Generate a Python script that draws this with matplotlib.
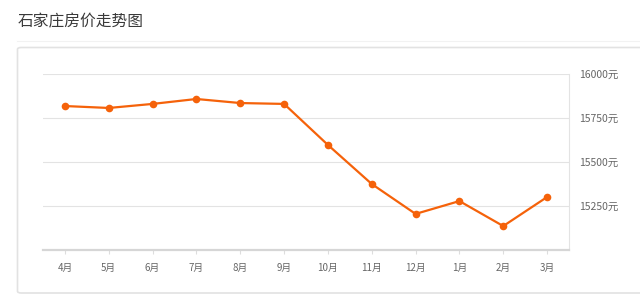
import matplotlib.pyplot as plt
from matplotlib.patches import FancyBboxPatch

plt.rcParams['font.family'] = ['Noto Sans CJK SC', 'DejaVu Sans']

# 月份和房价
months = ['4月', '5月', '6月', '7月', '8月', '9月', '10月', '11月', '12月', '1月', '2月', '3月']
prices = [15818, 15807, 15830, 15858, 15835, 15830, 15597, 15375, 15205, 15278, 15136, 15301]
yticks = [15250, 15500, 15750, 16000]
ytick_labels = ['15250元', '15500元', '15750元', '16000元']

fig = plt.figure(figsize=(6.4, 3.06), dpi=100)
W, H = 640, 306

# 外框卡片
card = FancyBboxPatch((17.5 / W, (H - 293) / H), (660 - 17.5) / W, (293 - 47.5) / H,
                      boxstyle="round,pad=0,rounding_size=0.006",
                      transform=fig.transFigure, facecolor='white',
                      edgecolor='#e2e2e2', linewidth=1.2, zorder=-1)
fig.patches.append(card)
fig.add_artist(plt.Line2D([17 / W, 1], [(H - 41) / H] * 2, transform=fig.transFigure,
                          color='#f2f2f2', linewidth=0.8, zorder=-1))

fig.text(18 / W, (H - 22) / H, '石家庄房价走势图', fontsize=11.3, color='#3a3a3a',
         va='center', ha='left')

ax = fig.add_axes([43 / W, (H - 250) / H, (569 - 43) / W, (250 - 74) / H])
ax.set_zorder(1)
ax.set_facecolor('none')
x = list(range(len(months)))
ax.plot(x, prices, color='#f5620a', linewidth=1.6, marker='o', markersize=5.5,
        markeredgewidth=0, zorder=3)

ax.set_xlim(-0.5, len(months) - 0.5)
ax.set_ylim(15000, 16000)
ax.set_xticks(x)
ax.set_xticklabels(months, fontsize=7, color='#666666')
ax.yaxis.tick_right()
ax.set_yticks(yticks)
ax.set_yticklabels(ytick_labels, fontsize=7.5, color='#666666')
ax.tick_params(axis='y', length=0, pad=7)
ax.tick_params(axis='x', length=3, color='#dddddd', pad=6)

ax.grid(axis='y', color='#e3e3e3', linewidth=0.8)
ax.set_axisbelow(True)
for side in ['top', 'left']:
    ax.spines[side].set_visible(False)
ax.spines['right'].set_color('#e3e3e3')
ax.spines['right'].set_linewidth(0.8)
ax.spines['bottom'].set_color('#d6d6d6')
ax.spines['bottom'].set_linewidth(1.6)

fig.savefig('out.png', dpi=100)
